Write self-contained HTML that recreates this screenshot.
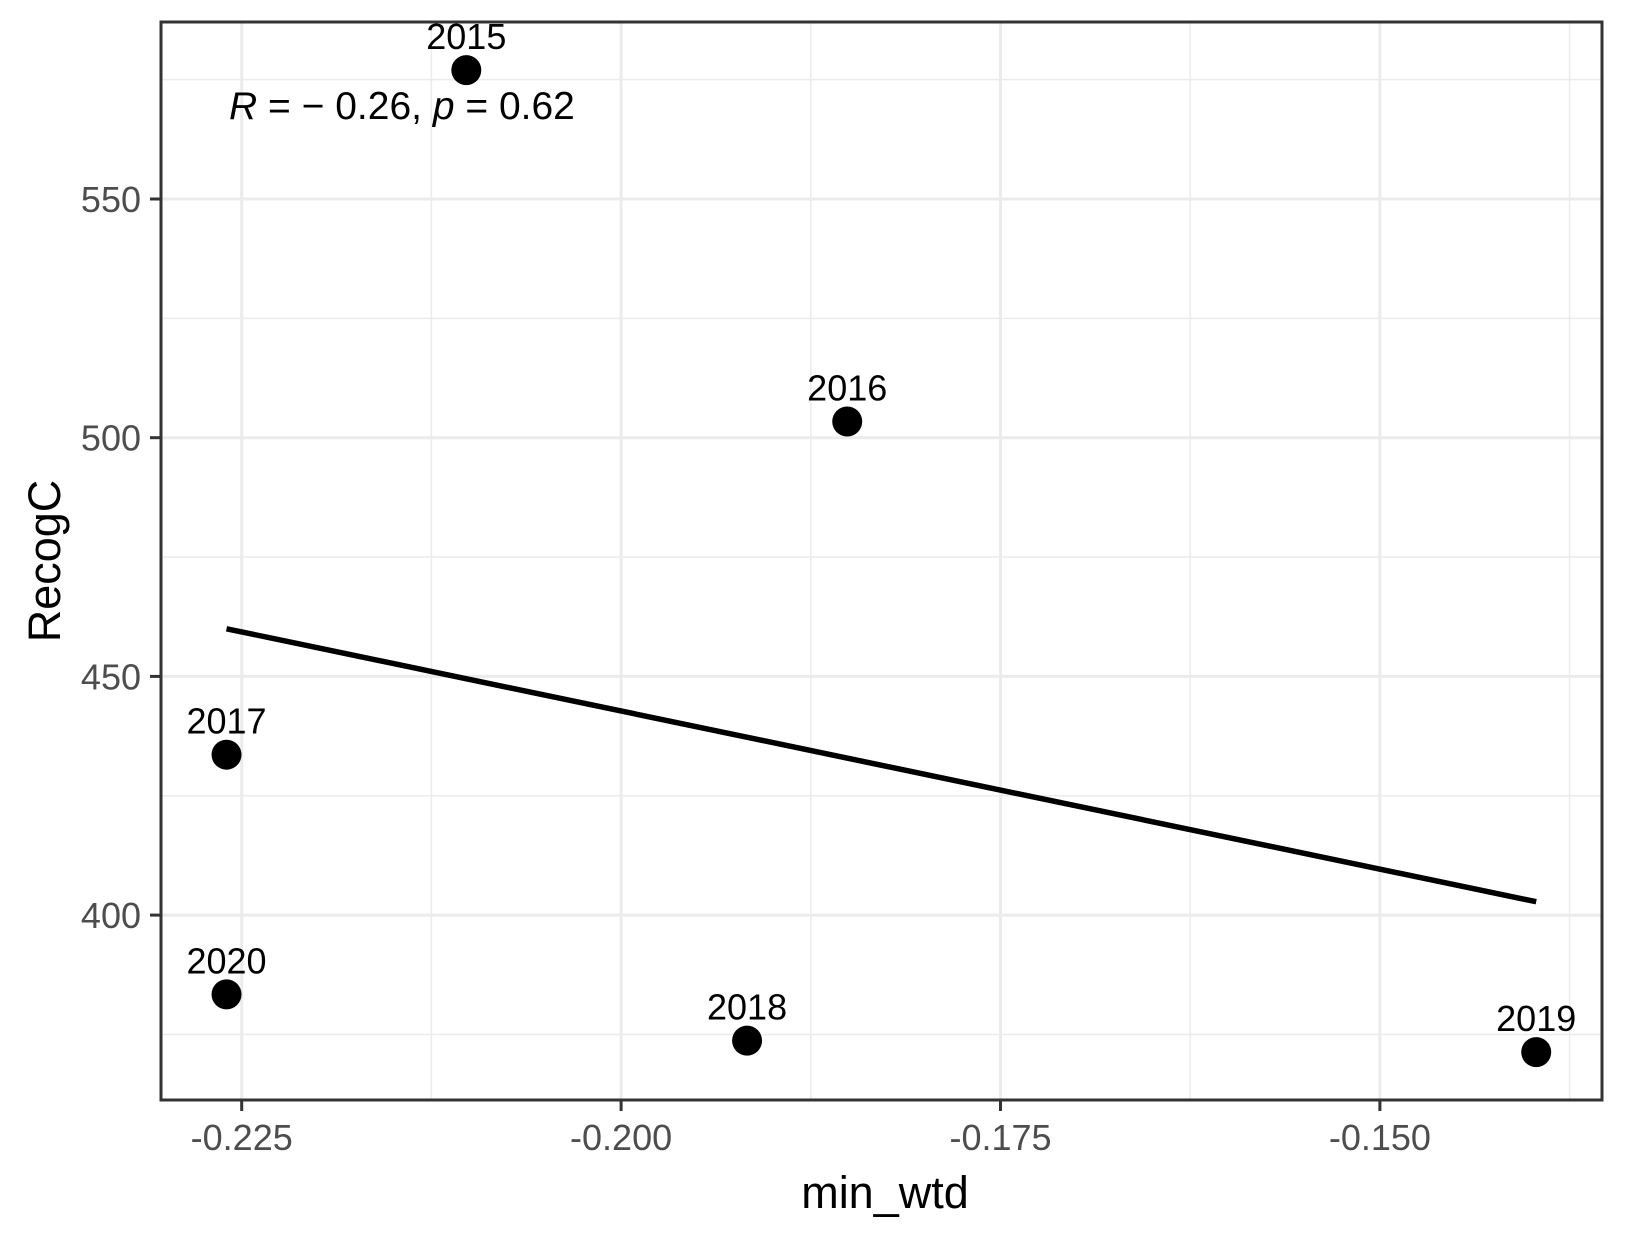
<!DOCTYPE html>
<html><head><meta charset="utf-8"><style>body{margin:0;background:#fff}svg{display:block}</style></head>
<body>
<svg id="chart" width="1625" height="1234" xmlns="http://www.w3.org/2000/svg" font-family="Liberation Sans, Arial, sans-serif">
<rect width="1625" height="1234" fill="#fff"/>
<g id="grid"></g><g id="marks"></g><g id="axes"></g>
</svg>
<script>
const years = ['2015','2016','2017','2020','2018','2019'];
const xVals = [-0.2102, -0.1851, -0.2260, -0.2260, -0.1917, -0.1397];
const yVals = [577.0, 503.4, 433.6, 383.4, 373.7, 371.3];
const xTicks = [-0.225, -0.200, -0.175, -0.150];
const xTickLabels = ['-0.225','-0.200','-0.175','-0.150'];
const yTicks = [400, 450, 500, 550];
const yTickLabels = ['400','450','500','550'];

const NS='http://www.w3.org/2000/svg';
const L=161,R=1602,T=22,B=1100;
const sx=v=>241.7+(v+0.225)/0.025*379.4;
const sy=v=>199+(550-v)*4.774;
function mk(tag,attrs,parent,text){const e=document.createElementNS(NS,tag);for(const k in attrs)e.setAttribute(k,attrs[k]);if(text!==undefined)e.textContent=text;document.getElementById(parent).appendChild(e);return e;}
for(let i=0;i<=xTicks.length;i++){const v=xTicks[0]-0.0125+i*0.025;const x=sx(v);if(x>L&&x<R){const g=mk('line',{x1:x,x2:x,y1:T,y2:B,stroke:'#ebebeb','stroke-width':1.5},'grid');}}
for(let i=0;i<=yTicks.length;i++){const v=yTicks[0]-25+i*50;const y=sy(v);if(y>T&&y<B){const g=mk('line',{x1:L,x2:R,y1:y,y2:y,stroke:'#ebebeb','stroke-width':1.5},'grid');}}
xTicks.forEach((v,i)=>{const x=sx(v);
 const g=mk('line',{x1:x,x2:x,y1:T,y2:B,stroke:'#ebebeb','stroke-width':3},'grid');
 const t=mk('line',{x1:x,x2:x,y1:B,y2:B+11,stroke:'#333','stroke-width':3},'axes');
 const l=mk('text',{x:x,y:1150,'text-anchor':'middle','font-size':36,fill:'#4d4d4d'},'axes',xTickLabels[i]);});
yTicks.forEach((v,i)=>{const y=sy(v);
 const g=mk('line',{x1:L,x2:R,y1:y,y2:y,stroke:'#ebebeb','stroke-width':3},'grid');
 const t=mk('line',{x1:L-11,x2:L,y1:y,y2:y,stroke:'#333','stroke-width':3},'axes');
 const l=mk('text',{x:141,y:y+13,'text-anchor':'end','font-size':36,fill:'#4d4d4d'},'axes',yTickLabels[i]);});
const n=xVals.length,mx=xVals.reduce((a,b)=>a+b)/n,my=yVals.reduce((a,b)=>a+b)/n;
let sxy=0,sxx=0;for(let i=0;i<n;i++){sxy+=(xVals[i]-mx)*(yVals[i]-my);sxx+=(xVals[i]-mx)**2;}
const slope=sxy/sxx,x0=Math.min(...xVals),x1=Math.max(...xVals);
const rl=mk('line',{x1:sx(x0),y1:sy(my+slope*(x0-mx)),x2:sx(x1),y2:sy(my+slope*(x1-mx)),stroke:'#000','stroke-width':5.5},'marks');

xVals.forEach((v,i)=>{const c=mk('circle',{cx:sx(v),cy:sy(yVals[i]),r:15,fill:'#000'},'marks');
 const t=mk('text',{x:sx(v),y:sy(yVals[i])-21,'text-anchor':'middle','font-size':36,fill:'#000'},'marks',years[i]);});
const fr=mk('rect',{x:L,y:T,width:R-L,height:B-T,fill:'none',stroke:'#333','stroke-width':3},'axes');
</script>
<svg style="position:absolute;left:0;top:0" width="1625" height="1234" xmlns="http://www.w3.org/2000/svg" font-family="Liberation Sans, Arial, sans-serif">
<text x="229" y="119" font-size="39" fill="#000"><tspan font-style="italic">R</tspan> = − 0.26, <tspan font-style="italic">p</tspan> = 0.62</text>
<text x="885" y="1208" text-anchor="middle" font-size="45" fill="#000">min_wtd</text>
<text transform="translate(60,561) rotate(-90)" text-anchor="middle" font-size="45" fill="#000">RecogC</text>
</svg>
</body></html>
